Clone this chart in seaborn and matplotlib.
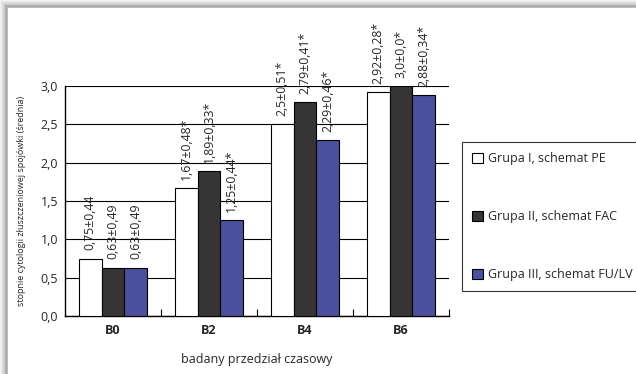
import matplotlib
matplotlib.use("Agg")
import matplotlib.pyplot as plt
import matplotlib.patches as mpatches
import seaborn as sns
import pandas as pd

periods = ["B0", "B2", "B4", "B6"]
groups = ["Grupa I, schemat PE", "Grupa II, schemat FAC", "Grupa III, schemat FU/LV"]
means_g1 = [0.75, 1.67, 2.5, 2.92]
means_g2 = [0.63, 1.89, 2.79, 3.0]
means_g3 = [0.63, 1.25, 2.29, 2.88]
labels_g1 = ["0,75±0,44", "1,67±0,48*", "2,5±0,51*", "2,92±0,28*"]
labels_g2 = ["0,63±0,49", "1,89±0,33*", "2,79±0,41*", "3,0±0,0*"]
labels_g3 = ["0,63±0,49", "1,25±0,44*", "2,29±0,46*", "2,88±0,34*"]
yticks = [0.0, 0.5, 1.0, 1.5, 2.0, 2.5, 3.0]
ytick_labels = ["0,0", "0,5", "1,0", "1,5", "2,0", "2,5", "3,0"]
colors = ["#ffffff", "#363435", "#4b4f9e"]

sns.set_theme(style="white")
plt.rcParams["font.family"] = ["Open Sans", "DejaVu Sans"]

rows = []
for g, vals in zip(groups, [means_g1, means_g2, means_g3]):
    for p, v in zip(periods, vals):
        rows.append({"okres": p, "grupa": g, "wartosc": v})
df = pd.DataFrame(rows)

W, H = 636, 374
fig = plt.figure(figsize=(W / 100, H / 100), dpi=100)
fig.patch.set_facecolor("white")

# outer frame shading
for i, c in enumerate(["#f2f2f2", "#e9e9e9", "#e0e0e0", "#d6d6d6", "#c8c8c8", "#b5b5b5", "#a8a8a8", "#bdbdbd"]):
    fig.add_artist(mpatches.Rectangle((i / W, 0), 1 / W, 1 - i / H, transform=fig.transFigure,
                                      color=c, lw=0, zorder=0))
    fig.add_artist(mpatches.Rectangle((i / W, 1 - (i + 1) / H), 1, 1 / H, transform=fig.transFigure,
                                      color=c, lw=0, zorder=0))

ax = fig.add_axes([65 / W, 1 - 316 / H, (449 - 65) / W, (316 - 86) / H])
sns.barplot(data=df, x="okres", y="wartosc", hue="grupa", hue_order=groups,
            order=periods, palette=colors, width=0.71, gap=0, edgecolor="black",
            linewidth=0.8, saturation=1, ax=ax, zorder=3)

ax.set_ylim(0, 3.0)
ax.set_xlim(-0.5, 3.5)
ax.set_yticks(yticks)
ax.set_yticklabels(ytick_labels, fontsize=9)
ax.yaxis.grid(True, color="black", linewidth=0.8, zorder=0)
ax.set_axisbelow(True)
for s in ["top", "right"]:
    ax.spines[s].set_visible(False)
for s in ["left", "bottom"]:
    ax.spines[s].set_color("black")
    ax.spines[s].set_linewidth(1.0)
ax.tick_params(axis="y", length=0, pad=5)
ax.tick_params(axis="x", length=0, pad=6)
ax.set_xticks([0.5, 1.5, 2.5, 3.5], minor=True)
ax.tick_params(axis="x", which="minor", direction="in", length=5, width=0.8, color="black", bottom=True)
for t in ax.get_xticklabels():
    t.set_fontweight("bold")
    t.set_fontsize(9)
ax.set_xlabel("badany przedział czasowy", fontsize=9, labelpad=11)
ax.set_ylabel("stopnie cytologii złuszczeniowej spojówki (średnia)", fontsize=6.5)
ax.yaxis.set_label_coords((26 - 65) / 384, 0.5)

for cont, labs in zip(ax.containers, [labels_g1, labels_g2, labels_g3]):
    for bar, lab in zip(cont, labs):
        x = bar.get_x() + bar.get_width() / 2
        y = bar.get_height()
        ax.annotate(lab, (x, y), xytext=(0, 6), textcoords="offset points",
                    rotation=90, ha="center", va="bottom", fontsize=8.8, clip_on=False)

handles, labs = ax.get_legend_handles_labels()
leg = ax.legend(handles, labs, bbox_to_anchor=(462 / W, 1 - 292 / H, 220 / W, 150 / H),
                bbox_transform=fig.transFigure, loc="upper left", mode="expand",
                fontsize=9, frameon=True, fancybox=False, edgecolor="black",
                handlelength=0.9, handleheight=0.9, handletextpad=0.4,
                labelspacing=3.6, borderpad=0.8, borderaxespad=0)
leg.get_frame().set_linewidth(0.8)
for h in leg.legend_handles:
    h.set_edgecolor("black")
    h.set_linewidth(0.8)

fig.savefig("out.png", dpi=100)
